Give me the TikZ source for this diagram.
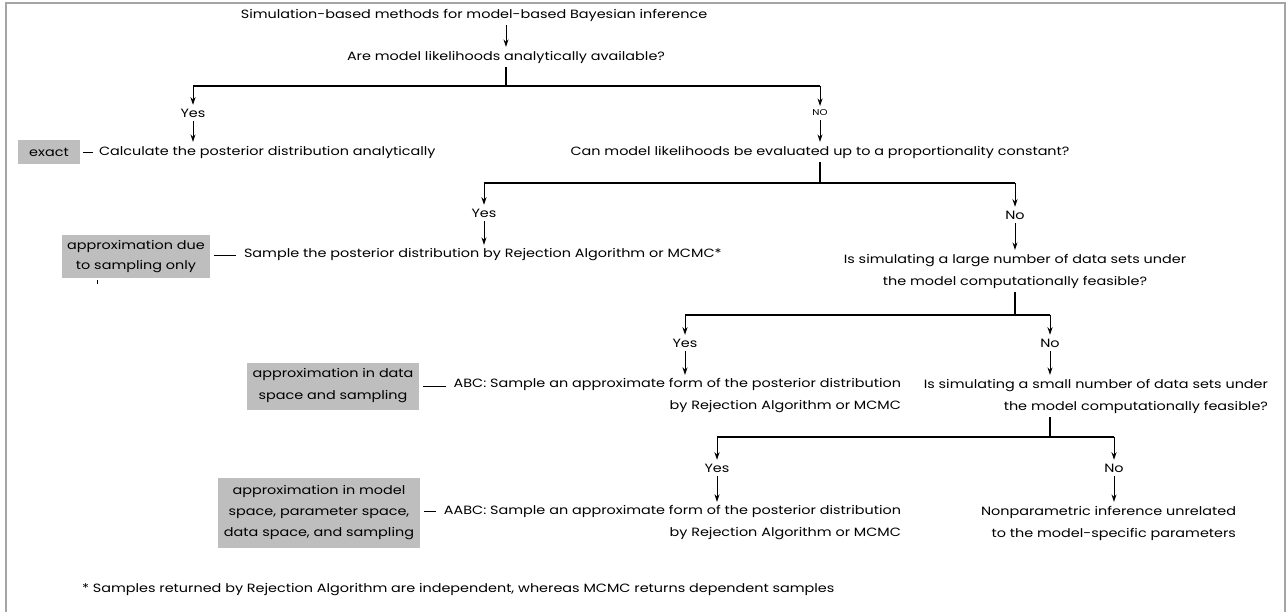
\documentclass[tikz,border=0pt]{standalone}
\usepackage{fontspec}
\setmainfont{Poppins}[FakeStretch=1.2]
\usetikzlibrary{arrows.meta}
\definecolor{boxgray}{RGB}{190,190,190}
\definecolor{framegray}{RGB}{165,165,165}
\begin{document}
\begin{tikzpicture}[x=1pt,y=-1pt,
  every node/.style={font=\fontsize{12}{23}\selectfont, inner sep=1pt, outer sep=3pt},
  arr/.style={-{Stealth[length=7.5pt,width=5pt]}, line width=0.9pt},
  ln/.style={line width=1.1pt},
  graybox/.style={fill=boxgray, align=center, inner sep=3pt, outer sep=0pt},
  linkline/.style={line width=0.9pt, shorten <=4pt, shorten >=4pt}]
\useasboundingbox (0,0) rectangle (1287,612);
\draw[framegray, line width=1.6pt] (6,620) -- (6,3) -- (1285,3) -- (1285,620);

% level 0
\node (title) at (474,15) {Simulation-based methods for model-based Bayesian inference};
\node (q1) at (506,57) {Are model likelihoods analytically available?};
\draw[arr] (title.south -| q1) -- (q1);
\coordinate (b1) at (506,86);
\coordinate (yL1) at (193,86);
\coordinate (nR1) at (820,86);
\draw[ln] (q1) -- (b1);
\draw[ln] (yL1) -- (nR1);

% yes 1
\node (yes1) at (193,113) {Yes};
\node[anchor=west] (calc) at (95,152) {Calculate the posterior distribution analytically};
\node[graybox, minimum width=62pt, minimum height=24pt] (bx1) at (49,152) {exact};
\draw[arr] (yL1) -- (yes1);
\draw[arr] (yes1) -- (yes1 |- calc.north);
\draw[linkline, shorten <=3pt, shorten >=2pt] (bx1) -- (calc);

% no 1
\node (no1) at (820,113) {\fontsize{8.5}{10}\selectfont NO};
\node (q2) at (820,152) {Can model likelihoods be evaluated up to a proportionality constant?};
\draw[arr] (nR1) -- (no1);
\draw[arr] (no1) -- (q2);
\coordinate (b2) at (820,183);
\coordinate (yL2) at (484,183);
\coordinate (nR2) at (1015,183);
\draw[ln] (q2) -- (b2);
\draw[ln] (yL2) -- (nR2);

% yes 2
\node (yes2) at (484,213) {Yes};
\node[anchor=west] (samp) at (240,255) {Sample the posterior distribution by Rejection Algorithm or MCMC*};
\node[graybox, minimum width=148pt, minimum height=43pt] (bx2) at (136,257) {approximation due\\[-3pt]to sampling only};
\draw[arr] (yL2) -- (yes2);
\draw[arr] (yes2) -- (yes2 |- samp.north);
\draw[linkline] (bx2.east |- samp) -- (samp);
\coordinate (tk) at (97,280);
\draw[line width=0.6pt] (tk) -- ++(0,4);

% no 2
\node (no2) at (1015,215) {No};
\node[align=center] (q3) at (1015,271) {Is simulating a large number of data sets under\\[-1pt]the model computationally feasible?};
\draw[arr] (nR2) -- (no2);
\draw[arr] (no2) -- (q3);
\coordinate (b3) at (1015,315);
\coordinate (yL3) at (685,315);
\coordinate (nR3) at (1050,315);
\draw[ln] (q3) -- (b3);
\draw[ln] (yL3) -- (nR3);

% yes 3
\node (yes3) at (685,343) {Yes};
\node[align=right, anchor=east] (abc) at (905,396) {ABC: Sample an approximate form of the posterior distribution\\[-1pt]by Rejection Algorithm or MCMC};
\node[graybox, minimum width=172pt, minimum height=47pt] (bx3) at (333,386) {approximation in data\\[-1pt]space and sampling};
\draw[arr] (yL3) -- (yes3);
\draw[arr] (yes3) -- (yes3 |- abc.north);
\draw[linkline] (bx3.east) -- (bx3.east -| abc.west);

% no 3
\node (no3) at (1050,343) {No};
\node[align=right, anchor=east] (q4) at (1272,396) {Is simulating a small number of data sets under\\[-1pt]the model computationally feasible?};
\draw[arr] (nR3) -- (no3);
\draw[arr] (no3) -- (no3 |- q4.north);
\coordinate (b4) at (1050,437);
\coordinate (yL4) at (717,437);
\coordinate (nR4) at (1114,437);
\draw[ln] (q4.south -| b4) -- (b4);
\draw[ln] (yL4) -- (nR4);

% yes 4
\node (yes4) at (717,468) {Yes};
\node[align=right, anchor=east] (aabc) at (905,523) {AABC: Sample an approximate form of the posterior distribution\\[-1pt]by Rejection Algorithm or MCMC};
\node[graybox, minimum width=202pt, minimum height=70pt] (bx4) at (319,513) {approximation in model\\[-2pt]space, parameter space,\\[-2pt]data space, and sampling};
\draw[arr] (yL4) -- (yes4);
\draw[arr] (yes4) -- (yes4 |- aabc.north);
\draw[linkline] (bx4.east |- 0,511) -- (aabc.west |- 0,511);

% no 4
\node (no4) at (1114,468) {No};
\node[align=right, anchor=east] (nonp) at (1240,523) {Nonparametric inference unrelated\\[-1pt]to the model-specific parameters};
\draw[arr] (nR4) -- (no4);
\draw[arr] (no4) -- (no4 |- nonp.north);

% footnote
\node[anchor=west] (foot) at (78,590) {* Samples returned by Rejection Algorithm are independent, whereas MCMC returns dependent samples};
\end{tikzpicture}
\end{document}
